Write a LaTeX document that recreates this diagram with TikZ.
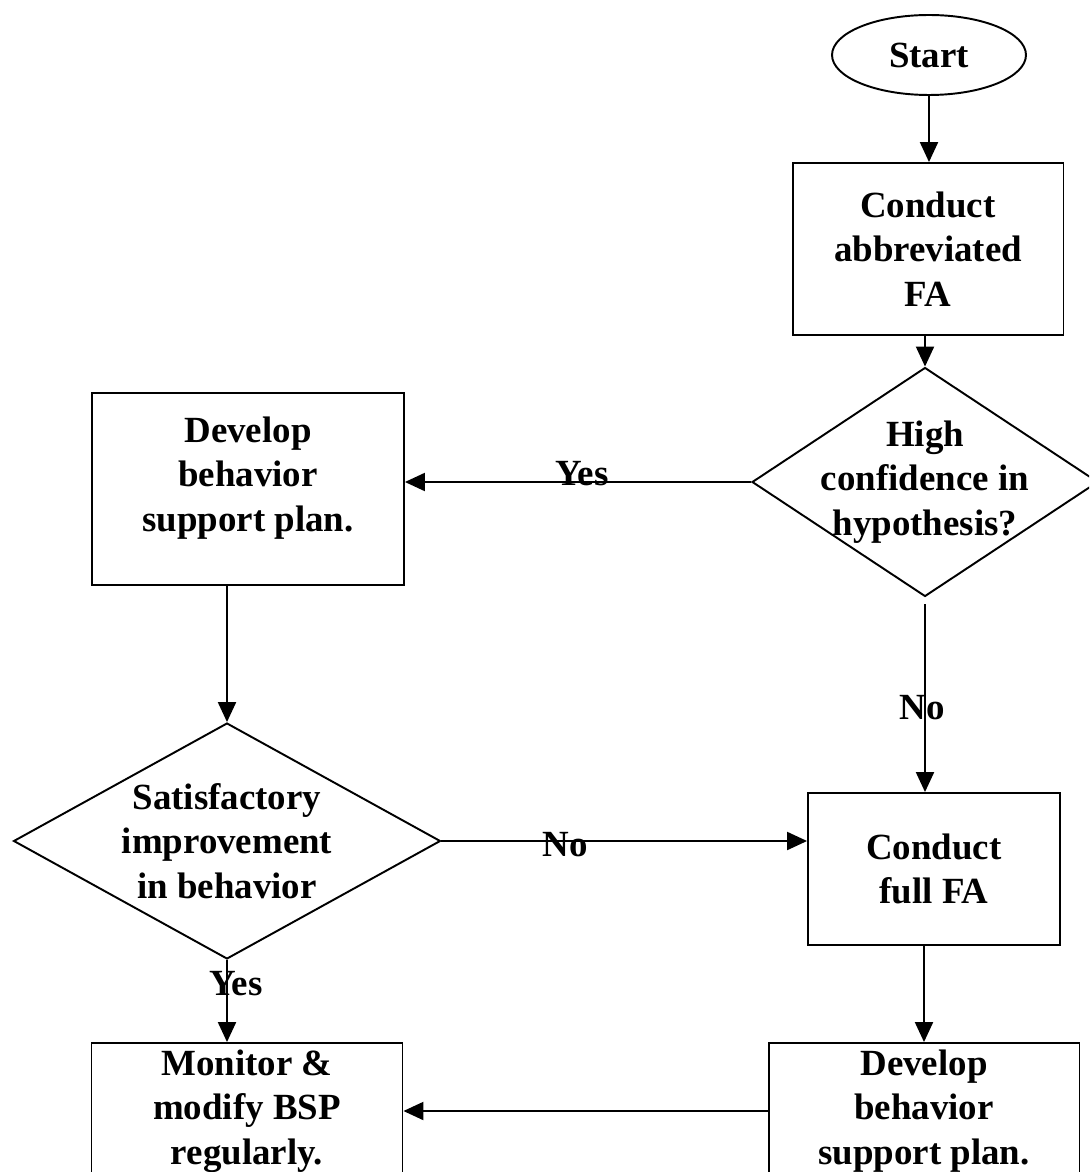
\documentclass[tikz,border=0pt]{standalone}
\usepackage{fontspec}
\setmainfont{Liberation Serif}
\usetikzlibrary{shapes.geometric,arrows.meta}

\begin{document}
\begin{tikzpicture}[x=0.02cm, y=-0.02cm,
    every node/.style={font=\fontsize{21}{25.3}\selectfont\bfseries, align=center},
    box/.style={draw, line width=1.1pt, inner sep=0pt},
    decision/.style={draw, diamond, line width=1.1pt, inner sep=0pt},
    arr/.style={line width=1.2pt, -{Triangle[length=0.4cm, width=0.36cm]}}]
    % Frame
    \clip (0,0) rectangle (1089,1172);

    % Right column
    \node[box, ellipse, minimum width=3.88cm, minimum height=1.6cm] (start) at (929,55) {Start};
    \node[box, minimum width=5.42cm, minimum height=3.44cm] (abbr) at (928,249) {Conduct\\abbreviated\\FA};
    \node[decision, minimum width=6.92cm, minimum height=4.58cm,
          label={center:{High\\confidence in\\hypothesis?}}] (hyp) at (925,482) {};
    \node[box, minimum width=5.04cm, minimum height=3.04cm] (full) at (934,869) {Conduct\\full FA};
    \node[box, minimum width=6.22cm, minimum height=2.72cm] (plan2) at (924,1111) {Develop\\behavior\\support plan.};

    % Left column
    \node[box, minimum width=6.24cm, minimum height=3.84cm] (plan1) at (248,489) {Develop\\behavior\\support plan.\\[-0.28cm]};
    \node[decision, minimum width=8.54cm, minimum height=4.72cm,
          label={center:{Satisfactory\\improvement\\in behavior}}] (sat) at (227,841) {};
    \node[box, minimum width=6.22cm, minimum height=2.72cm] (monitor) at (247,1111) {Monitor \&\\modify BSP\\regularly.};

    % Connectors
    \draw[arr] (start) -- (start |- abbr.north);
    \draw[arr] (abbr.south -| hyp.north) -- (hyp.north);
    \draw[arr] (hyp.west) -- (hyp.west -| plan1.east);
    \draw[arr, shorten <=0.14cm] (hyp.south) -- (hyp.south |- full.north);
    \draw[arr] (plan1.south -| sat.north) -- (sat.north);
    \draw[arr] (sat.east) -- (sat.east -| full.west);
    \draw[arr] (full.south -| plan2.north) -- (plan2.north);
    \draw[arr] (sat.south) -- (sat.south |- monitor.north);
    \draw[arr] (plan2.west) -- (monitor.east);

    % Labels
    \node (yes1) at (582,474) {Yes};
    \node (no1) at (922,708) {No};
    \node (no2) at (565,845) {No};
    \node (yes2) at (236,984) {Yes};
\end{tikzpicture}
\end{document}
